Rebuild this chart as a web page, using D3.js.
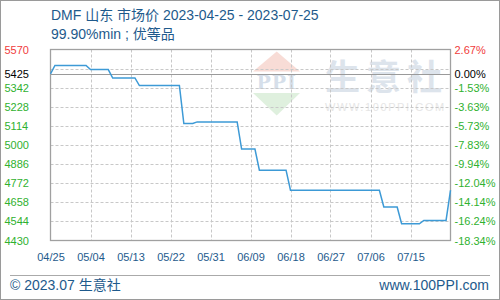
<!DOCTYPE html>
<html>
<head>
<meta charset="utf-8">
<script src="https://cdn.jsdelivr.net/npm/d3@7"></script>
<style>
  html, body { margin: 0; padding: 0; background: #fff; }
  svg { display: block; font-family: "Liberation Sans", Arial, "Noto Sans CJK SC", sans-serif; }
</style>
</head>
<body>
<div id="chart"></div>
<script>
// Chart data
const titleLine1 = "DMF 山东 市场价 2023-04-25 - 2023-07-25";
const titleLine2 = "99.90%min ; 优等品";
const baseValue = 5425;

// price change points (day, price)
const dates = ["2023-04-25", "2023-04-26", "2023-05-03", "2023-05-04", "2023-05-08", "2023-05-09",
  "2023-05-14", "2023-05-15", "2023-05-24", "2023-05-25", "2023-05-27", "2023-05-28",
  "2023-06-06", "2023-06-07", "2023-06-10", "2023-06-11", "2023-06-17", "2023-06-18",
  "2023-07-08", "2023-07-09", "2023-07-12", "2023-07-13", "2023-07-17", "2023-07-18",
  "2023-07-23", "2023-07-24"];
const prices = [5425, 5475, 5475, 5450, 5450, 5400,
  5400, 5355, 5355, 5128, 5128, 5138,
  5138, 4976, 4976, 4850, 4850, 4730,
  4730, 4630, 4630, 4530, 4530, 4550,
  4550, 4730];

// axis ticks
const yGrid = [5570, 5456, 5342, 5228, 5114, 5000, 4886, 4772, 4658, 4544, 4430];
const yLabels = [5570, 5425, 5342, 5228, 5114, 5000, 4886, 4772, 4658, 4544, 4430];
const xTicks = ["2023-04-25", "2023-05-04", "2023-05-13", "2023-05-22", "2023-05-31",
  "2023-06-09", "2023-06-18", "2023-06-27", "2023-07-06", "2023-07-15"];
const xDomain = ["2023-04-25", "2023-07-24"];

// SVG constants
const width = 500, height = 300;
const plotLeft = 50.5, plotRight = 450.5, plotTop = 49.5, plotBottom = 240.5;
const blue = "#1e5a8c";

const parse = d3.timeParse("%Y-%m-%d");
const data = dates.map((d, i) => ({ date: parse(d), value: prices[i] }));

const x = d3.scaleTime()
  .domain(xDomain.map(parse))
  .range([plotLeft, plotRight]);
const y = d3.scaleLinear()
  .domain([d3.min(yGrid), d3.max(yGrid)])
  .range([plotBottom, plotTop]);

const svg = d3.select("#chart")
  .append("svg")
  .attr("width", width)
  .attr("height", height);

// outer frame
svg.append("rect")
  .attr("x", 0.5).attr("y", 0.5)
  .attr("width", width - 1).attr("height", height - 1)
  .attr("fill", "#fff")
  .attr("stroke", "#9a9a9a");

// titles
svg.append("text")
  .attr("x", 51).attr("y", 19.5)
  .attr("fill", blue)
  .style("font-size", "14px")
  .text(titleLine1);
svg.append("text")
  .attr("x", 51).attr("y", 38.5)
  .attr("fill", blue)
  .style("font-size", "14px")
  .text(titleLine2);

// watermark
const wm = svg.append("g");
wm.append("path")
  .attr("d", "M276.7,51.5 L300,71.5 L253,71.5 Z")
  .attr("fill", "#f8dcd6");
wm.append("path")
  .attr("d", "M253,93 L300,93 L276.7,115.5 Z")
  .attr("fill", "#dff0de");
wm.append("text")
  .attr("x", 276.7).attr("y", 88.5)
  .attr("text-anchor", "middle")
  .attr("fill", "#d6dfea")
  .style("font", "bold 19px 'DejaVu Serif', serif")
  .style("letter-spacing", "1px")
  .text("PPI");
wm.append("text")
  .attr("x", 325).attr("y", 90)
  .attr("fill", "#dde4ec")
  .style("font", "bold 35px 'Noto Sans CJK SC', sans-serif")
  .style("letter-spacing", "6px")
  .text("生意社");
wm.append("text")
  .attr("x", 325).attr("y", 110.5)
  .attr("fill", "#e6e6e6")
  .style("font-size", "11px")
  .style("letter-spacing", "1.6px")
  .text("WWW.100PPI.COM");

// grid
svg.append("g")
  .selectAll("line")
  .data(yGrid.slice(1, -1))
  .join("line")
  .attr("x1", plotLeft).attr("x2", plotRight)
  .attr("y1", d => Math.round(y(d)) + 0.5)
  .attr("y2", d => Math.round(y(d)) + 0.5)
  .attr("stroke", "#c8c8c8")
  .attr("stroke-dasharray", "3,2");

svg.append("g")
  .selectAll("line")
  .data(xTicks.slice(1).map(parse))
  .join("line")
  .attr("x1", d => Math.round(x(d)) + 0.5)
  .attr("x2", d => Math.round(x(d)) + 0.5)
  .attr("y1", plotTop).attr("y2", plotBottom)
  .attr("stroke", "#c8c8c8")
  .attr("stroke-dasharray", "3,2");

// base line
svg.append("line")
  .attr("x1", plotLeft).attr("x2", plotRight)
  .attr("y1", Math.round(y(baseValue)) + 0.5)
  .attr("y2", Math.round(y(baseValue)) + 0.5)
  .attr("stroke", "#9a9a9a");

// plot border
svg.append("rect")
  .attr("x", plotLeft).attr("y", plotTop)
  .attr("width", plotRight - plotLeft).attr("height", plotBottom - plotTop)
  .attr("fill", "none")
  .attr("stroke", "#a0a0a0")
  .attr("stroke-width", 1.3);

// price line
const line = d3.line()
  .x(d => x(d.date))
  .y(d => y(d.value));
svg.append("path")
  .datum(data)
  .attr("fill", "none")
  .attr("stroke", "#3d9ad6")
  .attr("stroke-width", 1.5)
  .attr("d", line);

// axis label colors
const labelColor = v => v > baseValue ? "#f03c3c" : v < baseValue ? "#2fb12f" : "#000";
const pct = v => ((v / baseValue - 1) * 100).toFixed(2) + "%";

const yLeft = g => g
  .call(d3.axisRight(y).tickValues(yLabels).tickSize(0).tickPadding(4.5).tickFormat(d => d))
  .call(g => g.select(".domain").remove())
  .call(g => g.selectAll("text")
    .attr("fill", d => labelColor(d))
    .style("font-size", "11px")
    .style("font-family", "'Liberation Sans', Arial, sans-serif"));
svg.append("g").attr("transform", "translate(0,0)").call(yLeft);

const yRight = g => g
  .call(d3.axisRight(y).tickValues(yLabels).tickSize(0).tickPadding(4).tickFormat(pct))
  .call(g => g.select(".domain").remove())
  .call(g => g.selectAll("text")
    .attr("fill", d => labelColor(d))
    .style("font-size", "11px")
    .style("font-family", "'Liberation Sans', Arial, sans-serif"));
svg.append("g").attr("transform", `translate(${plotRight},0)`).call(yRight);

const xAxis = g => g
  .attr("transform", `translate(0,${plotBottom})`)
  .call(d3.axisBottom(x).tickValues(xTicks.map(parse)).tickSize(0).tickPadding(12.5)
    .tickFormat(d3.timeFormat("%m/%d")))
  .call(g => g.select(".domain").remove())
  .call(g => g.selectAll("text")
    .attr("fill", blue)
    .style("font-size", "11px")
    .style("font-family", "'Liberation Sans', Arial, sans-serif"));
svg.append("g").call(xAxis);

// footer
svg.append("line")
  .attr("x1", 10).attr("x2", 490)
  .attr("y1", 275.5).attr("y2", 275.5)
  .attr("stroke", "#aaa");
svg.append("text")
  .attr("x", 10).attr("y", 290)
  .attr("fill", blue)
  .style("font-size", "14px")
  .text("© 2023.07 生意社");
svg.append("text")
  .attr("x", 489).attr("y", 290)
  .attr("text-anchor", "end")
  .attr("fill", blue)
  .style("font-size", "14px")
  .text("www.100PPI.com");
</script>
</body>
</html>
